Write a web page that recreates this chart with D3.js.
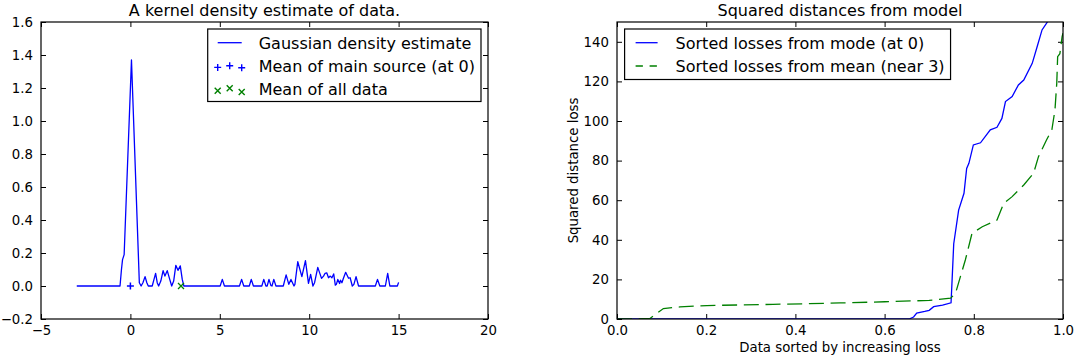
<!DOCTYPE html>
<html><head><meta charset="utf-8">
<script src="https://cdn.jsdelivr.net/npm/d3@7"></script>
<style>body{margin:0;background:#fff} text{font-family:"DejaVu Sans",sans-serif}</style>
</head><body><svg id="c" width="1080" height="360"></svg>
<script>
// ---- data: left panel (kernel density estimate) ----
const kdeX = [-3,-0.58,-0.5,-0.44,-0.35,0.06,0.5,0.6,0.7,0.82,0.92,1.0,1.22,1.32,1.41,1.5,1.58,1.7,1.83,1.93,2.06,2.2,2.31,2.42,2.54,2.66,2.79,2.9,2.99,5.02,5.14,5.26,6.1,6.22,6.34,6.65,6.76,6.88,7.35,7.46,7.58,7.65,7.75,7.86,7.92,8.02,8.14,8.55,8.71,8.86,8.98,9.15,9.2,9.36,9.59,9.79,9.96,10.08,10.21,10.3,10.48,10.69,10.8,10.89,10.98,11.08,11.18,11.27,11.37,11.46,11.52,11.6,11.7,11.75,11.83,11.91,12.04,12.2,12.29,12.41,12.5,12.62,12.76,13.7,13.82,13.95,14.26,14.39,14.51,14.93,15];
const kdeY = [0,0,0.1,0.16,0.19,1.37,0.02,0,0.02,0.057,0.02,0,0,0.04,0.077,0.02,0,0.03,0.093,0.06,0.093,0.04,0,0.03,0.125,0.095,0.122,0.04,0,0,0.04,0,0,0.04,0,0,0.04,0,0,0.04,0,0,0.04,0.002,0,0.04,0,0,0.067,0.01,0.04,0,0.01,0.147,0.057,0.154,0.016,0.07,0,0.02,0.113,0.046,0.06,0.077,0.08,0.05,0.06,0.05,0.073,0.005,0.01,0.04,0.015,0.035,0.02,0.045,0.083,0.047,0.05,0,0.01,0.057,0,0,0.04,0,0,0.077,0,0,0.022];
const mainMeanX = [0];
const allMeanX = [2.83];
const leftXTicks = [-5,0,5,10,15,20];
const leftYTicks = [-0.2,0,0.2,0.4,0.6,0.8,1.0,1.2,1.4,1.6];
const leftLabels = ["Gaussian density estimate","Mean of main source (at 0)","Mean of all data"];

// ---- data: right panel (sorted losses) ----
const modeX = [0,0.655,0.665,0.672,0.69,0.70,0.71,0.73,0.749,0.751,0.755,0.766,0.778,0.784,0.789,0.799,0.815,0.837,0.852,0.863,0.871,0.886,0.9,0.912,0.931,0.942,0.953,0.968,0.98,1.0];
const modeY = [0,0,1,3,3.8,4.4,6.2,7,8.2,18,38,55,63.5,76,78.6,87.9,89,95.5,96.8,101.3,109.8,112.3,118.2,120.7,129.1,137.5,146,151,170,220];
const meanX = [0,0.04,0.074,0.085,0.104,0.141,0.201,0.276,0.35,0.425,0.5,0.6,0.7,0.748,0.759,0.781,0.796,0.819,0.852,0.867,0.886,0.912,0.934,0.945,0.963,0.975,0.982,0.986,0.988,0.993,0.998,1.0];
const meanY = [0,0,0.3,2.2,5.3,6.1,6.8,7.1,7.4,7.7,8.1,8.7,9.4,10.5,13,29.8,43.3,46.6,50,58.4,61.8,67.7,73.6,82,90.4,95.5,105.6,119,132.5,134,142.6,144.3];
const rightXTicks = [0,0.2,0.4,0.6,0.8,1.0];
const rightYTicks = [0,20,40,60,80,100,120,140];
const rightLabels = ["Sorted losses from mode (at 0)","Sorted losses from mean (near 3)"];

const BLUE = "#0000ff", GREEN = "#008000";
const svg = d3.select("#c");
svg.append("rect").attr("width",1080).attr("height",360).attr("fill","#fff");

function frame(id, x, y, xt, yt, xf, yf) {
  const g = svg.append("g");
  const [x0,x1] = x.range(), [y1,y0] = y.range();
  const T = 5;
  const axes = [
    g.append("g").attr("transform",`translate(0,${y1})`).call(d3.axisBottom(x).tickValues(xt).tickFormat(xf).tickSizeInner(-T).tickSizeOuter(0).tickPadding(6.5)),
    g.append("g").attr("transform",`translate(0,${y0})`).call(d3.axisTop(x).tickValues(xt).tickFormat("").tickSizeInner(-T).tickSizeOuter(0)),
    g.append("g").attr("transform",`translate(${x0},0)`).call(d3.axisLeft(y).tickValues(yt).tickFormat(yf).tickSizeInner(-T).tickSizeOuter(0).tickPadding(8)),
    g.append("g").attr("transform",`translate(${x1},0)`).call(d3.axisRight(y).tickValues(yt).tickFormat("").tickSizeInner(-T).tickSizeOuter(0))
  ];
  axes.forEach(a => {
    a.attr("font-family",null).attr("font-size",null);
    a.select(".domain").remove();
    a.selectAll("line").attr("stroke","#000").attr("stroke-width",1);
    a.selectAll("text").attr("font-size",13.3).attr("fill","#000");
  });
  svg.append("defs").append("clipPath").attr("id",id).append("rect")
    .attr("x",x0).attr("y",y0).attr("width",x1-x0).attr("height",y1-y0);
  return g;
}
function border(x,y){
  const [x0,x1] = x.range(), [y1,y0] = y.range();
  svg.append("rect").attr("x",x0).attr("y",y0).attr("width",x1-x0).attr("height",y1-y0)
    .attr("fill","none").attr("stroke","#000").attr("stroke-width",1.2);
}
const plusPath = "M-3.5,0H3.5M0,-3.5V3.5";
const xPath = "M-3,-3L3,3M-3,3L3,-3";

// ---------- Left panel ----------
const xL = d3.scaleLinear().domain([-5,20]).range([41,488]);
const yL = d3.scaleLinear().domain([-0.2,1.6]).range([319,22]);
frame("clipL", xL, yL, leftXTicks, leftYTicks, d3.format("d"), d3.format(".1f"));
const gL = svg.append("g").attr("clip-path","url(#clipL)");
gL.append("path").datum(kdeX.map((v,i)=>[v,kdeY[i]]))
  .attr("d", d3.line().x(d=>xL(d[0])).y(d=>yL(d[1])))
  .attr("fill","none").attr("stroke",BLUE).attr("stroke-width",1.3).attr("stroke-linejoin","round");
gL.selectAll(".mm").data(mainMeanX).join("path")
  .attr("transform",d=>`translate(${xL(d)},${yL(0)})`).attr("d",plusPath)
  .attr("stroke",BLUE).attr("stroke-width",1.5).attr("fill","none");
gL.selectAll(".am").data(allMeanX).join("path")
  .attr("transform",d=>`translate(${xL(d)},${yL(0)})`).attr("d",xPath)
  .attr("stroke",GREEN).attr("stroke-width",1.3).attr("fill","none");
border(xL,yL);
svg.append("text").attr("x",(xL.range()[0]+xL.range()[1])/2).attr("y",16)
  .attr("text-anchor","middle").attr("font-size",16).text("A kernel density estimate of data.");

// ---------- Right panel ----------
const xR = d3.scaleLinear().domain([0,1]).range([617,1063]);
const yR = d3.scaleLinear().domain([0,150]).range([319,22]);
frame("clipR", xR, yR, rightXTicks, rightYTicks, d3.format(".1f"), d3.format("d"));
const gR = svg.append("g").attr("clip-path","url(#clipR)");
gR.append("path").datum(modeX.map((v,i)=>[v,modeY[i]]))
  .attr("d", d3.line().x(d=>xR(d[0])).y(d=>yR(d[1])))
  .attr("fill","none").attr("stroke",BLUE).attr("stroke-width",1.3);
gR.append("path").datum(meanX.map((v,i)=>[v,meanY[i]]))
  .attr("d", d3.line().x(d=>xR(d[0])).y(d=>yR(d[1])))
  .attr("fill","none").attr("stroke",GREEN).attr("stroke-width",1.3).attr("stroke-dasharray","15,6.7");
border(xR,yR);
svg.append("text").attr("x",(xR.range()[0]+xR.range()[1])/2).attr("y",16)
  .attr("text-anchor","middle").attr("font-size",16).text("Squared distances from model");
svg.append("text").attr("x",(xR.range()[0]+xR.range()[1])/2).attr("y",352)
  .attr("text-anchor","middle").attr("font-size",13.3).text("Data sorted by increasing loss");
svg.append("text").attr("transform",`translate(578,${(yR.range()[0]+yR.range()[1])/2}) rotate(-90)`)
  .attr("text-anchor","middle").attr("font-size",13.3).text("Squared distance loss");

// ---------- Legends ----------
function legend(axX, side, labels, draw) {
  const g = svg.append("g");
  const top = 29, pad = 6, handleW = 24, textGap = 17, rowH = 23.3;
  const box = g.append("rect").attr("fill","#fff").attr("stroke","#000").attr("stroke-width",1.2);
  const texts = labels.map((l,i)=> g.append("text").attr("font-size",16).attr("y",top+13.7+i*rowH+5.8).text(l));
  const maxW = d3.max(texts, t=>t.node().getComputedTextLength());
  const w = 10 + handleW + textGap + maxW + pad;
  const left = side === "right" ? axX.range()[1]-7-w : axX.range()[0]+7.6;
  const hx0 = left+10, hx1 = hx0+handleW, tx = hx1+textGap;
  texts.forEach(t=>t.attr("x",tx));
  box.attr("x",left).attr("y",top).attr("width",w).attr("height",labels.length*22+6.5);
  labels.forEach((l,i)=>draw(g,i,hx0,hx1,top+13.7+i*rowH));
}
legend(xL, "right", leftLabels, (g,i,a,b,cy)=>{
  if(i===0){ g.append("line").attr("x1",a).attr("x2",b).attr("y1",cy).attr("y2",cy).attr("stroke",BLUE).attr("stroke-width",1.3); }
  else {
    const offs = i===1 ? [1.4,-0.3,1.7] : [1.4,-1,2.7];
    [a,(a+b)/2,b].forEach((px,k)=>g.append("path").attr("transform",`translate(${px},${cy+offs[k]})`)
      .attr("d", i===1?plusPath:xPath).attr("stroke", i===1?BLUE:GREEN).attr("stroke-width",1.4).attr("fill","none"));
  }
});
legend(xR, "left", rightLabels, (g,i,a,b,cy)=>{
  g.append("line").attr("x1",a+1).attr("x2",b-1).attr("y1",cy).attr("y2",cy)
    .attr("stroke", i===0?BLUE:GREEN).attr("stroke-width",1.3).attr("stroke-dasharray", i===0?null:"7.3,6.7");
});
</script></body></html>
